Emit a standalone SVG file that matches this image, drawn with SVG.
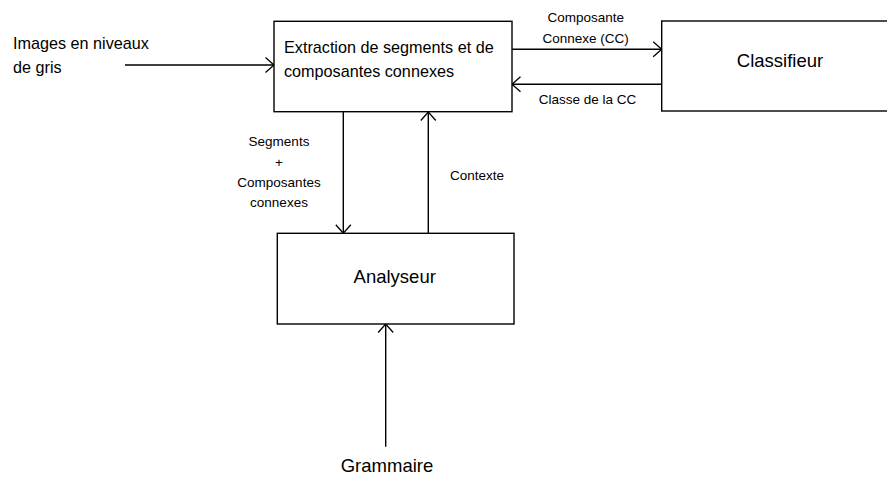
<svg xmlns="http://www.w3.org/2000/svg" width="887" height="477" viewBox="0 0 887 477">
<defs>
<marker id="arr" markerUnits="userSpaceOnUse" markerWidth="20" markerHeight="20" refX="10" refY="10" orient="auto" overflow="visible">
<path d="M1.5,2.5 L10,10 L1.5,17.5" fill="none" stroke="#000" stroke-width="1.3"/>
</marker>
</defs>
<style>
.box{fill:#fff;stroke:#000;stroke-width:1.4}
.ln{fill:none;stroke:#000;stroke-width:1.4;marker-end:url(#arr)}
text{font-family:"Liberation Sans",Arial,sans-serif;fill:#000}
.big{font-size:18.5px}
.mid{font-size:16.2px}
.sm{font-size:13.5px}
</style>
<rect width="887" height="477" fill="#fff"/>
<g id="connectors">
<line class="ln" x1="125" y1="65" x2="274" y2="65"/>
<line class="ln" x1="512" y1="49.3" x2="661.7" y2="49.3"/>
<line class="ln" x1="661.7" y1="84.3" x2="512" y2="84.3"/>
<line class="ln" x1="343.3" y1="112" x2="343.3" y2="233.3"/>
<line class="ln" x1="428.3" y1="233.3" x2="428.3" y2="112"/>
<line class="ln" x1="385.7" y1="446.7" x2="385.7" y2="324"/>
<text class="sm" x="585.7" y="21.7" text-anchor="middle">Composante</text>
<text class="sm" x="585.7" y="42.7" text-anchor="middle">Connexe (CC)</text>
<text class="sm" x="587.5" y="104" text-anchor="middle">Classe de la CC</text>
<text class="sm" x="279" y="146" text-anchor="middle">Segments</text>
<text class="sm" x="279" y="166.7" text-anchor="middle">+</text>
<text class="sm" x="279" y="187.3" text-anchor="middle">Composantes</text>
<text class="sm" x="279" y="207.3" text-anchor="middle">connexes</text>
<text class="sm" x="450" y="180">Contexte</text>
</g>
<g id="input">
<text class="mid" x="13" y="49.3">Images en niveaux</text>
<text class="mid" x="13" y="73.3">de gris</text>
</g>
<g id="extraction">
<rect class="box" x="274" y="21.3" width="238" height="90.4"/>
<text class="mid" x="284" y="52.5">Extraction de segments et de</text>
<text class="mid" x="284" y="76.5">composantes connexes</text>
</g>
<g id="classifieur">
<rect class="box" x="661.7" y="21" width="240" height="90"/>
<text class="big" x="780" y="67.3" text-anchor="middle">Classifieur</text>
</g>
<g id="analyseur">
<rect class="box" x="277.3" y="233.3" width="236.7" height="90.7"/>
<text class="big" x="394.7" y="282.7" text-anchor="middle">Analyseur</text>
</g>
<g id="grammaire">
<text class="big" x="387" y="472" text-anchor="middle">Grammaire</text>
</g>
</svg>
